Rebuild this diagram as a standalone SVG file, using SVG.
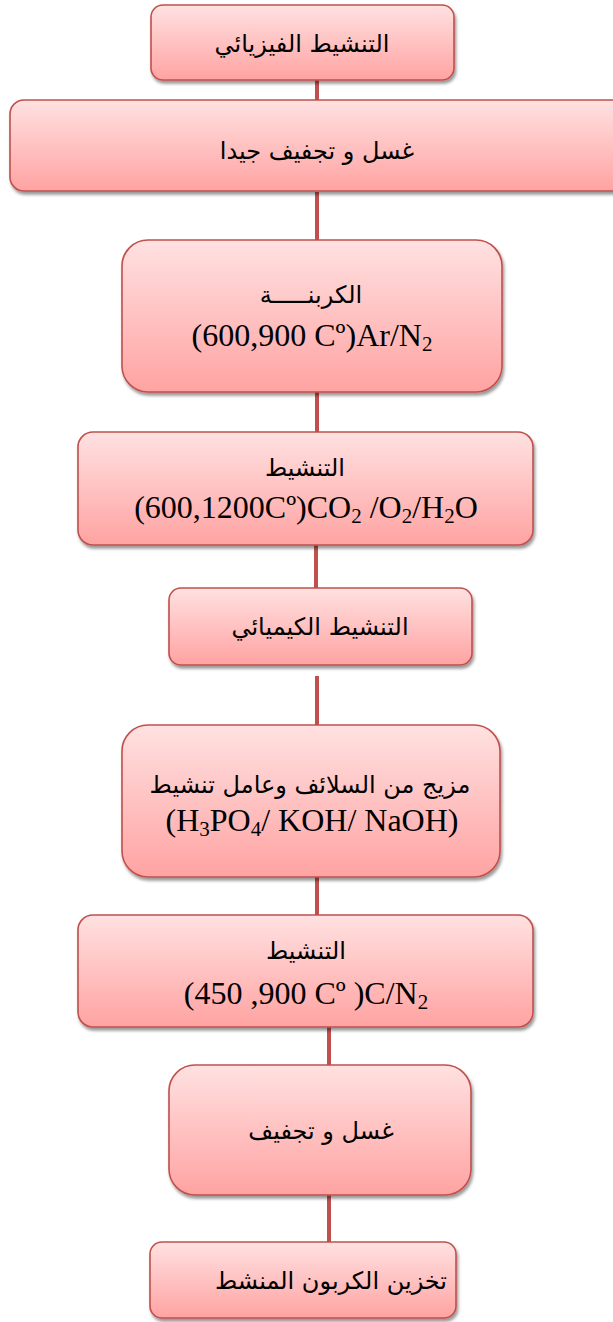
<svg xmlns="http://www.w3.org/2000/svg" width="613" height="1322" viewBox="0 0 613 1322">
<defs>
<linearGradient id="g" x1="0" y1="0" x2="0" y2="1">
<stop offset="0" stop-color="#ffe1e1"/>
<stop offset="1" stop-color="#ffa3a2"/>
</linearGradient>
<filter id="sh" x="-10%" y="-10%" width="120%" height="130%">
<feDropShadow dx="1.5" dy="3" stdDeviation="1.5" flood-color="#000" flood-opacity="0.4"/>
</filter>
</defs>
<style>
.box{fill:url(#g);stroke:#c0504d;stroke-width:1.6;filter:url(#sh)}
.ar{font-family:"DejaVu Sans",sans-serif;font-size:24px;fill:#000;text-anchor:middle}
.la{font-family:"Liberation Serif",serif;font-size:32px;fill:#000;text-anchor:middle}
.sub{font-size:21px}
.con{stroke:#c0504d;stroke-width:4;fill:none}
</style>
<rect width="613" height="1322" fill="#fff"/>
<g id="connectors">
<line class="con" x1="317" y1="80" x2="317" y2="100"/>
<line class="con" x1="317" y1="192" x2="317" y2="240"/>
<line class="con" x1="317" y1="392" x2="317" y2="432"/>
<line class="con" x1="316" y1="545" x2="316" y2="588"/>
<line class="con" x1="317" y1="676" x2="317" y2="725"/>
<line class="con" x1="317" y1="877" x2="317" y2="915"/>
<line class="con" x1="329" y1="1027" x2="329" y2="1065"/>
<line class="con" x1="329" y1="1195" x2="329" y2="1242"/>
</g>
<g id="n1">
<rect class="box" x="151" y="5" width="303" height="75" rx="12"/>
<text class="ar" x="302" y="52">التنشيط الفيزيائي</text>
</g>
<g id="n2">
<rect class="box" x="10" y="100" width="620" height="91" rx="14"/>
<text class="ar" x="317" y="159">غسل و تجفيف جيدا</text>
</g>
<g id="n3">
<rect class="box" x="122" y="240" width="380" height="152" rx="26"/>
<text class="ar" x="311" y="303">الكربنـــــة</text>
<text class="la" x="312" y="346">(600,900 Cº)Ar/N<tspan class="sub" dy="5">2</tspan></text>
</g>
<g id="n4">
<rect class="box" x="78" y="432" width="455" height="113" rx="15"/>
<text class="ar" x="305" y="476">التنشيط</text>
<text class="la" x="306" y="518">(600,1200Cº)CO<tspan class="sub" dy="5">2</tspan><tspan dy="-5"> /O</tspan><tspan class="sub" dy="5">2</tspan><tspan dy="-5">/H</tspan><tspan class="sub" dy="5">2</tspan><tspan dy="-5">O</tspan></text>
</g>
<g id="n5">
<rect class="box" x="169" y="588" width="303" height="77" rx="12"/>
<text class="ar" x="320" y="635">التنشيط الكيميائي</text>
</g>
<g id="n6">
<rect class="box" x="122" y="725" width="378" height="152" rx="26"/>
<text class="ar" x="310" y="793">مزيج من السلائف وعامل تنشيط</text>
<text class="la" x="312" y="831">(H<tspan class="sub" dy="5">3</tspan><tspan dy="-5">PO</tspan><tspan class="sub" dy="5">4</tspan><tspan dy="-5">/ KOH/ NaOH)</tspan></text>
</g>
<g id="n7">
<rect class="box" x="78" y="915" width="455" height="112" rx="15"/>
<text class="ar" x="306" y="959">التنشيط</text>
<text class="la" x="306" y="1004">(450 ,900 Cº )C/N<tspan class="sub" dy="5">2</tspan></text>
</g>
<g id="n8">
<rect class="box" x="169" y="1065" width="302" height="130" rx="26"/>
<text class="ar" x="321" y="1139">غسل و تجفيف</text>
</g>
<g id="n9">
<rect class="box" x="150" y="1242" width="306" height="76" rx="12"/>
<text class="ar" x="331" y="1289">تخزين الكربون المنشط</text>
</g>
</svg>
